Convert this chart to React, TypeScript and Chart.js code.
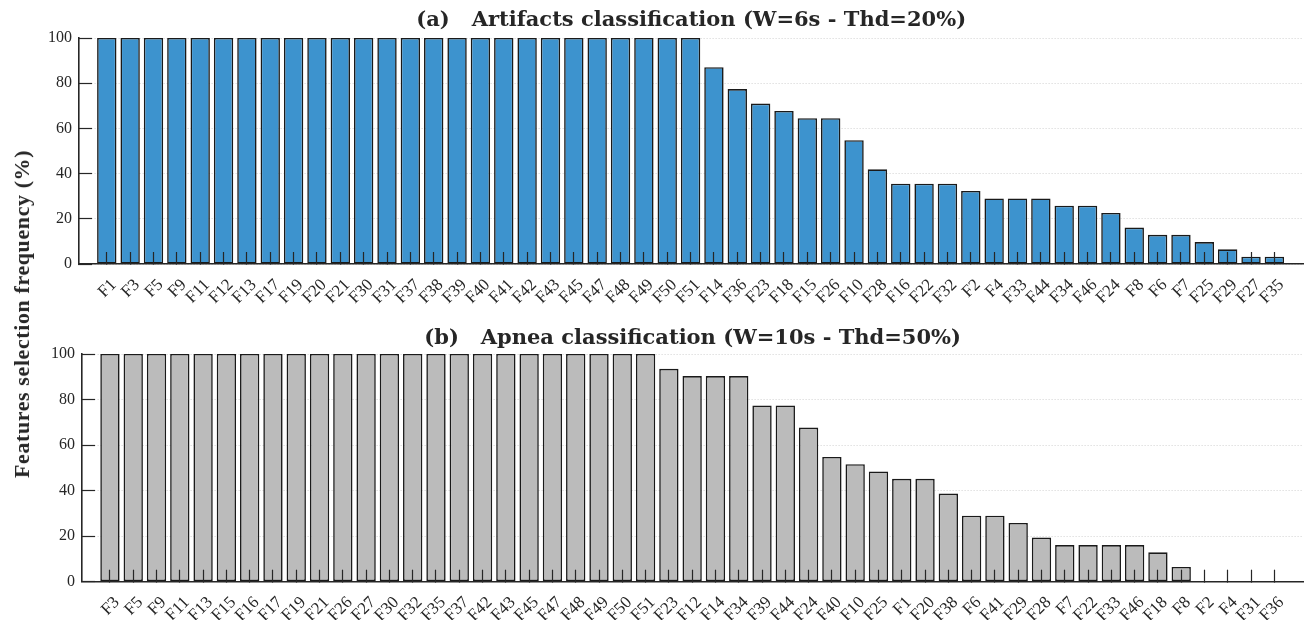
import React, { useEffect, useRef } from "react";
import { Chart, registerables } from "chart.js";

Chart.register(...registerables);

// ---------- data ----------
const labelsA = [
  "F1", "F3", "F5", "F9", "F11", "F12", "F13", "F17", "F19", "F20", "F21", "F30", "F31",
  "F37", "F38", "F39", "F40", "F41", "F42", "F43", "F45", "F47", "F48", "F49", "F50", "F51",
  "F14", "F36", "F23", "F18", "F15", "F26", "F10", "F28", "F16", "F22", "F32", "F2", "F4",
  "F33", "F44", "F34", "F46", "F24", "F8", "F6", "F7", "F25", "F29", "F27", "F35",
];
const valuesA = [
  100, 100, 100, 100, 100, 100, 100, 100, 100, 100, 100, 100, 100,
  100, 100, 100, 100, 100, 100, 100, 100, 100, 100, 100, 100, 100,
  87.1, 77.4, 71.0, 67.7, 64.5, 64.5, 54.8, 41.9, 35.5, 35.5, 35.5, 32.3, 29.0,
  29.0, 29.0, 25.8, 25.8, 22.6, 16.1, 12.9, 12.9, 9.7, 6.5, 3.2, 3.2,
];

const labelsB = [
  "F3", "F5", "F9", "F11", "F13", "F15", "F16", "F17", "F19", "F21", "F26", "F27", "F30",
  "F32", "F35", "F37", "F42", "F43", "F45", "F47", "F48", "F49", "F50", "F51",
  "F23", "F12", "F14", "F34", "F39", "F44", "F24", "F40", "F10", "F25", "F1", "F20", "F38",
  "F6", "F41", "F29", "F28", "F7", "F22", "F33", "F46", "F18", "F8", "F2", "F4", "F31", "F36",
];
const valuesB = [
  100, 100, 100, 100, 100, 100, 100, 100, 100, 100, 100, 100, 100,
  100, 100, 100, 100, 100, 100, 100, 100, 100, 100, 100,
  93.5, 90.3, 90.3, 90.3, 77.4, 77.4, 67.7, 54.8, 51.6, 48.4, 45.2, 45.2, 38.7,
  29.0, 29.0, 25.8, 19.4, 16.1, 16.1, 16.1, 16.1, 12.9, 6.5, 0, 0, 0, 0,
];

const titleA = "(a)   Artifacts classification (W=6s - Thd=20%)";
const titleB = "(b)   Apnea classification (W=10s - Thd=50%)";
const yAxisTitle = "Features selection frequency (%)";
const yMin = 0;
const yMax = 100;
const yStep = 20;

// ---------- style ----------
const FONT = "'Liberation Serif', 'Times New Roman', serif";
const TITLE_FONT = "'DejaVu Serif', 'Liberation Serif', serif";
const INK = "#262626";
const BLUE = "#3d93ce";
const GRAY = "#bbbbbb";

type Geom = {
  height: number;
  left: number;
  right: number;
  titleTop: number;
  titleBottom: number;
  xHeight: number;
  xMin: number;
  xMax: number;
};

function makeConfig(labels: string[], values: number[], color: string, title: string, g: Geom): any {
  return {
    type: "bar",
    data: {
      datasets: [
        {
          data: labels.map((_, i) => ({ x: i + 1, y: values[i] })),
          backgroundColor: color,
          borderColor: "#1a1a1a",
          borderWidth: 1.6,
          borderSkipped: false,
          categoryPercentage: 1,
          barPercentage: 0.83,
        },
      ],
    },
    options: {
      responsive: false,
      animation: false,
      events: [],
      layout: { padding: { left: 0, right: g.right, top: 0, bottom: 0 } },
      plugins: {
        legend: { display: false },
        tooltip: { enabled: false },
        title: {
          display: true,
          fullSize: false,
          text: title,
          color: INK,
          font: { family: TITLE_FONT, size: 21, weight: "bold", lineHeight: 1.2 },
          padding: { top: g.titleTop, bottom: g.titleBottom },
        },
      },
      scales: {
        x: {
          type: "linear",
          min: g.xMin,
          max: g.xMax,
          offset: false,
          z: 1,
          afterBuildTicks: (s: any) => {
            s.ticks = labels.map((_, i) => ({ value: i + 1 }));
          },
          afterFit: (s: any) => {
            s.height = g.xHeight;
          },
          ticks: {
            autoSkip: false,
            minRotation: 45,
            maxRotation: 45,
            padding: 23,
            labelOffset: 7,
            color: INK,
            font: { family: FONT, size: 17 },
            callback: (v: number) => labels[Math.round(v) - 1] ?? "",
          },
          grid: {
            z: 1,
            offset: false,
            drawOnChartArea: false,
            drawTicks: true,
            tickLength: -12,
            tickColor: INK,
            tickWidth: 1.2,
          },
          border: { z: 1, display: true, color: INK, width: 1.6 },
        },
        y: {
          min: yMin,
          max: yMax,
          afterFit: (s: any) => {
            s.width = g.left;
          },
          ticks: {
            stepSize: yStep,
            padding: 20,
            color: INK,
            font: { family: FONT, size: 16 },
          },
          grid: {
            color: "#d2d2d2",
            lineWidth: 1,
            drawTicks: true,
            tickLength: -13,
            tickColor: INK,
            tickWidth: 1.2,
            tickBorderDash: [],
          },
          border: { display: true, color: INK, width: 1.6, dash: [1, 2] },
        },
      },
    },
  };
}

function BarPanel(props: { labels: string[]; values: number[]; color: string; title: string; top: number; g: Geom }) {
  const ref = useRef<HTMLCanvasElement | null>(null);
  useEffect(() => {
    if (!ref.current) return;
    const chart = new Chart(ref.current, makeConfig(props.labels, props.values, props.color, props.title, props.g));
    return () => chart.destroy();
  }, []);
  return (
    <canvas
      ref={ref}
      width={1312}
      height={props.g.height}
      style={{ position: "absolute", left: 0, top: props.top, width: 1312, height: props.g.height }}
    />
  );
}

export default function App() {
  const geomA: Geom = { height: 310, left: 79, right: 5, titleTop: 7.8, titleBottom: 5, xHeight: 46, xMin: -0.19, xMax: 52.24 };
  const geomB: Geom = { height: 310, left: 82, right: 2, titleTop: 15.8, titleBottom: 3, xHeight: 38.3, xMin: -0.2, xMax: 52.24 };
  return (
    <div style={{ position: "absolute", left: 0, top: 0, width: 1312, height: 620, background: "#fff", overflow: "hidden" }}>
      <BarPanel labels={labelsA} values={valuesA} color={BLUE} title={titleA} top={0} g={geomA} />
      <BarPanel labels={labelsB} values={valuesB} color={GRAY} title={titleB} top={310} g={geomB} />
      <div
        style={{
          position: "absolute",
          left: 22,
          top: 314,
          transform: "translate(-50%, -50%) rotate(-90deg)",
          whiteSpace: "nowrap",
          fontFamily: FONT,
          fontWeight: "bold",
          fontSize: 22,
          color: INK,
          letterSpacing: 0.6,
        }}
      >
        {yAxisTitle}
      </div>
    </div>
  );
}
